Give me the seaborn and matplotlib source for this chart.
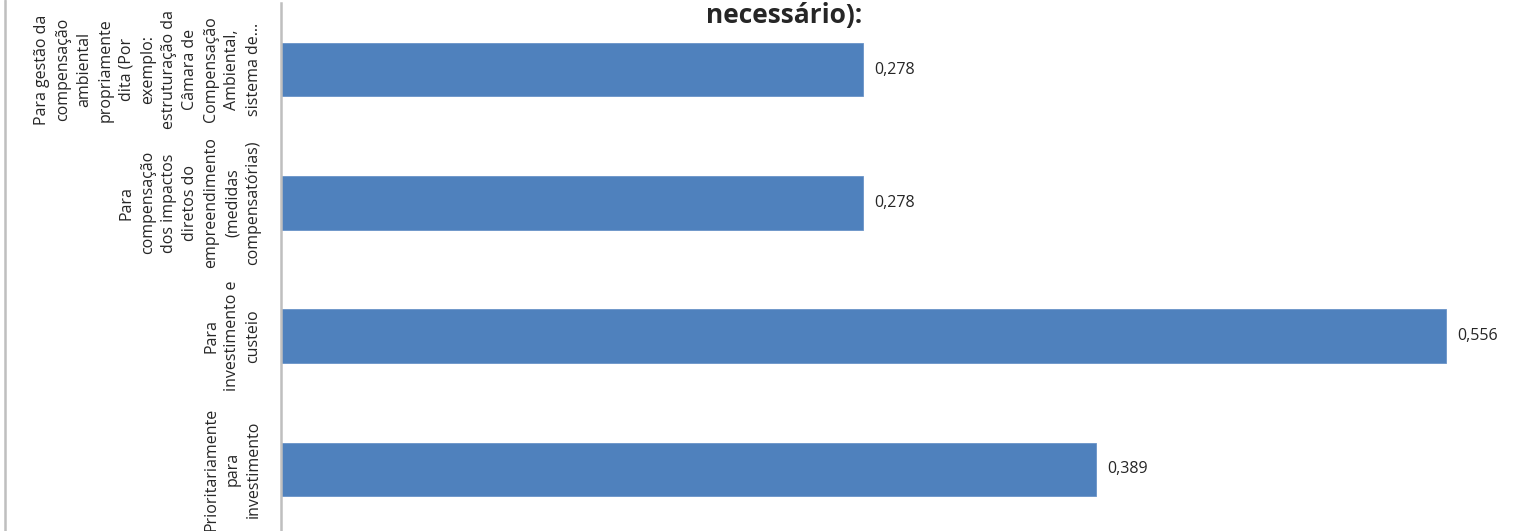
import matplotlib
matplotlib.use("Agg")
from matplotlib import pyplot as plt
import seaborn as sns
import pandas as pd

sns.set_style("white")
plt.rcParams['font.family'] = ['Open Sans', 'DejaVu Sans']

# Data
categories = [
    "Para gestão da\ncompensação\nambiental\npropriamente\ndita (Por\nexemplo:\nestruturação da\nCâmara de\nCompensação\nAmbiental,\nsistema de...",
    "Para\ncompensação\ndos impactos\ndiretos do\nempreendimento\n(medidas\ncompensatórias)",
    "Para\ninvestimento e\ncusteio",
    "Prioritariamente\npara\ninvestimento",
]
values = [0.278, 0.278, 0.556, 0.389]

df = pd.DataFrame({"categoria": categories, "valor": values})

fig = plt.figure(figsize=(15.13, 5.31), dpi=100)
ax = fig.add_axes([281 / 1513, -5 / 531, (1513 - 281) / 1513, 533 / 531])

sns.barplot(data=df, x="valor", y="categoria", color="#4F81BD", width=0.4,
            saturation=1, edgecolor="#6A93C8", linewidth=0.6, ax=ax)

ax.set_xlim(0, (1513 - 281) / 2095)
ax.set_xlabel("")
ax.set_ylabel("")
ax.set_xticks([])

# Rotated category labels, centred lines
ax.tick_params(axis="y", length=0, pad=14)
for lbl in ax.get_yticklabels():
    lbl.set_rotation(90)
    lbl.set_va("center")
    lbl.set_ha("right")
    lbl.set_multialignment("center")
    lbl.set_fontsize(11.5)
    lbl.set_linespacing(1.43)

# Value labels with decimal comma
ax.bar_label(ax.containers[0], labels=[f"{v:.3f}".replace(".", ",") for v in values],
             padding=8, fontsize=11.5)

for side in ["top", "right", "bottom"]:
    ax.spines[side].set_visible(False)
ax.spines["left"].set_color("#BFBFBF")
ax.spines["left"].set_linewidth(1.8)

# chart border on the left edge
fig.add_artist(plt.Line2D([5 / 1513, 5 / 1513], [0, 1], color="#BFBFBF", linewidth=1.8))

# Title (only last line visible)
fig.text(784 / 1513, 1 - 16 / 531, "necessário):", ha="center", va="center",
         fontsize=19, fontweight="bold")

plt.savefig("out.png", dpi=100)
